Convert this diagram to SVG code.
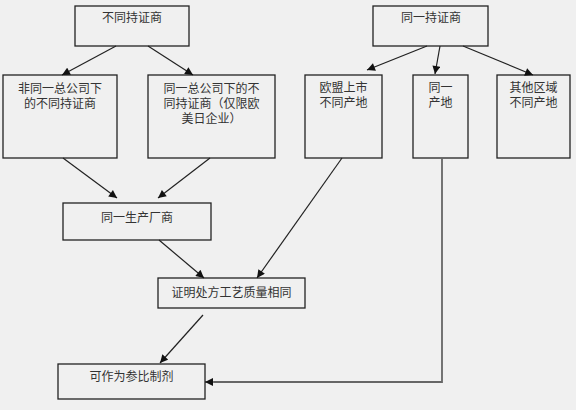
<svg xmlns="http://www.w3.org/2000/svg" width="576" height="410" viewBox="0 0 576 410">
<style>
.box{fill:none;stroke:#222;stroke-width:1.3}
.t{font-family:"Liberation Sans","Noto Sans CJK SC","Noto Sans CJK JP",sans-serif;font-size:12px;fill:#333;text-anchor:middle}
.c{fill:none;stroke:#222;stroke-width:1.2}
.g{fill:none;stroke:#666;stroke-width:1.8}
</style>
<defs>
<marker id="ah" viewBox="0 0 10 10" refX="10" refY="5" markerWidth="9" markerHeight="8" markerUnits="userSpaceOnUse" orient="auto">
<path d="M0,0 L10,5 L0,10 z" fill="#111"/>
</marker>
</defs>
<rect width="576" height="410" fill="#f0f0f0"/>
<g id="n1"><rect class="box" x="75" y="6" width="114" height="40"/><text class="t" x="132" y="22">不同持证商</text></g>
<g id="n2"><rect class="box" x="3" y="75" width="114" height="83"/><text class="t" x="60" y="93">非同一总公司下</text><text class="t" x="60" y="108">的不同持证商</text></g>
<g id="n3"><rect class="box" x="148" y="75" width="127" height="83"/><text class="t" x="211.5" y="93">同一总公司下的不</text><text class="t" x="211.5" y="108">同持证商（仅限欧</text><text class="t" x="211.5" y="123">美日企业）</text></g>
<g id="n4"><rect class="box" x="373" y="6" width="115" height="40"/><text class="t" x="431" y="22">同一持证商</text></g>
<g id="n5"><rect class="box" x="305" y="75" width="77" height="83"/><text class="t" x="343.5" y="92">欧盟上市</text><text class="t" x="343.5" y="107">不同产地</text></g>
<g id="n6"><rect class="box" x="413" y="75" width="55" height="83"/><text class="t" x="440.5" y="92">同一</text><text class="t" x="440.5" y="107">产地</text></g>
<g id="n7"><rect class="box" x="497" y="75" width="73" height="83"/><text class="t" x="533.5" y="92">其他区域</text><text class="t" x="533.5" y="107">不同产地</text></g>
<g id="n8"><rect class="box" x="63" y="203" width="148" height="37"/><text class="t" x="137" y="222">同一生产厂商</text></g>
<g id="n9"><rect class="box" x="158" y="278" width="147" height="30"/><text class="t" x="231.5" y="297">证明处方工艺质量相同</text></g>
<g id="n10"><rect class="box" x="58" y="364" width="147" height="35"/><text class="t" x="131.5" y="381">可作为参比制剂</text></g>
<g id="connectors">
<line class="c" x1="116" y1="46" x2="62" y2="75" marker-end="url(#ah)"/>
<line class="c" x1="148" y1="46" x2="193" y2="75" marker-end="url(#ah)"/>
<line class="c" x1="427" y1="46" x2="367" y2="70" marker-end="url(#ah)"/>
<line class="c" x1="440" y1="46" x2="435" y2="74" marker-end="url(#ah)"/>
<line class="c" x1="463" y1="46" x2="533" y2="75" marker-end="url(#ah)"/>
<line class="c" x1="63" y1="158" x2="117" y2="198" marker-end="url(#ah)"/>
<line class="c" x1="210" y1="158" x2="158" y2="198" marker-end="url(#ah)"/>
<line class="c" x1="159" y1="240" x2="204" y2="278" marker-end="url(#ah)"/>
<line class="c" x1="342" y1="158" x2="257" y2="278" marker-end="url(#ah)"/>
<line class="c" x1="203" y1="315" x2="160" y2="363" marker-end="url(#ah)"/>
<polyline class="g" points="442,158 442,382 214,382"/>
<line class="c" x1="214" y1="382" x2="205" y2="382" marker-end="url(#ah)"/>
</g>
</svg>
